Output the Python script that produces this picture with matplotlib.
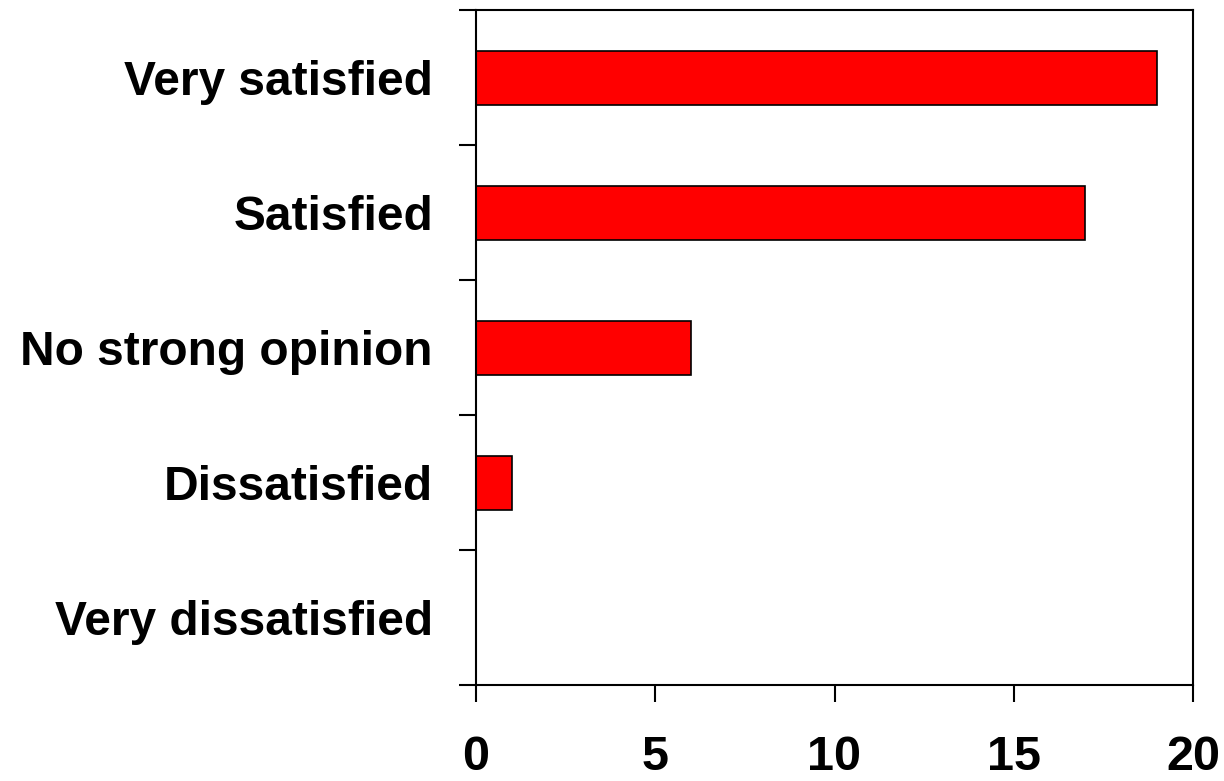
import matplotlib.pyplot as plt

# Datos de la encuesta de satisfaccion
categorias = ['Very satisfied', 'Satisfied', 'No strong opinion',
              'Dissatisfied', 'Very dissatisfied']
valores = [19, 17, 6, 1, 0]
xticks = [0, 5, 10, 15, 20]

plt.rcParams['font.family'] = ['Liberation Sans', 'DejaVu Sans']

fig = plt.figure(figsize=(12.24, 7.81), dpi=100)
ax = fig.add_axes([476 / 1224, 1 - 685 / 781, 717 / 1224, 675 / 781])

posiciones = list(range(len(categorias)))
ax.barh(posiciones, valores, height=0.4, color='#ff0000',
        edgecolor='black', linewidth=1.2)

ax.set_xlim(0, 20)
ax.set_ylim(len(categorias) - 0.5, -0.5)
ax.set_xticks(xticks)
ax.set_xticklabels([str(t) for t in xticks], fontsize=35, fontweight='bold')

# etiquetas centradas, ticks entre categorias
ax.set_yticks(posiciones)
ax.set_yticklabels(categorias, fontsize=34.5, fontweight='bold')
ax.set_yticks([i - 0.5 for i in range(len(categorias) + 1)], minor=True)
ax.tick_params(axis='y', which='major', length=0, pad=31)
ax.tick_params(axis='y', which='minor', length=12, width=1.5)
ax.tick_params(axis='x', length=12, width=1.5, pad=24)

for s in ax.spines.values():
    s.set_linewidth(1.5)

fig.savefig('out.png', dpi=100)
